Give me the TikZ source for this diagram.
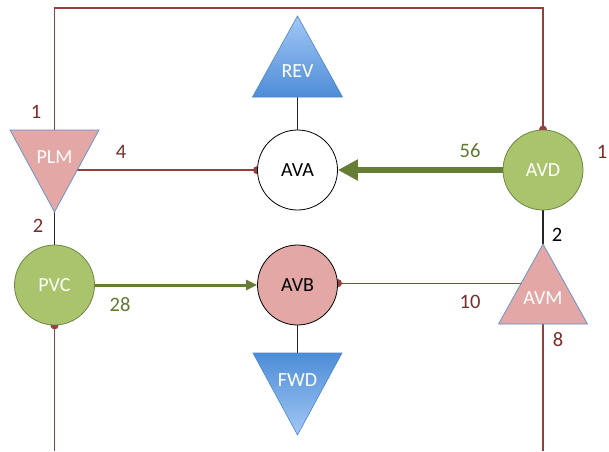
\documentclass[tikz,border=0pt]{standalone}
\usepackage{fontspec}
\setmainfont{Carlito}
\usetikzlibrary{arrows.meta,calc}
\pgfdeclarelayer{background}
\pgfsetlayers{background,main}

\definecolor{avpink}{HTML}{E3A7A6}
\definecolor{avgreen}{HTML}{A9C46C}
\definecolor{greenedge}{HTML}{6E8744}
\definecolor{flowgreen}{HTML}{657D35}
\definecolor{wirered}{HTML}{973F3D}
\definecolor{numred}{HTML}{7A2C2B}
\definecolor{numgreen}{HTML}{5E7A31}
\definecolor{bluelight}{HTML}{A2C7F6}
\definecolor{bluedark}{HTML}{4E8DD6}
\definecolor{bluedge}{HTML}{4A86C6}
\definecolor{tribluedge}{HTML}{5C8FD1}

\begin{document}
\begin{tikzpicture}[x=1pt,y=1pt,
  labelfont/.style={font=\fontsize{20}{24}\selectfont},
  hub/.style={circle, minimum size=80pt, inner sep=0pt, line width=0.8pt, labelfont},
  whitehub/.style={hub, fill=white, draw=black},
  pinkhub/.style={hub, fill=avpink, draw=black},
  greenhub/.style={hub, fill=avgreen, draw=greenedge, text=white},
  pinktri/.style={fill=avpink, draw=tribluedge, line width=0.7pt, line join=miter},
  bluetri/.style={draw=bluedge, line width=0.6pt, line join=miter},
  tag/.style={inner sep=0pt, labelfont},
  num/.style={inner sep=0pt, font=\fontsize{20.5}{24}\selectfont},
  wire/.style={line width=1.2pt, draw=black!85},
  redwire/.style={line width=1.4pt, draw=wirered, line join=miter},
  dotend/.style={-{Circle[length=8pt]}, shorten >=-4pt},
  dotstart/.style={{Circle[length=8pt]}-, shorten <=-4pt},
]
\useasboundingbox (0,0) rectangle (609,451);

% circular hubs
\node[whitehub] (ava) at (297.5,281) {AVA};
\node[greenhub] (avd) at (543,281) {AVD};
\node[pinkhub]  (avb) at (297.5,166) {AVB};
\node[greenhub] (pvc) at (54.5,166) {PVC};

% PLM: pink triangle pointing down
\coordinate (plmTL) at (10,321);
\coordinate (plmTR) at (99,321);
\coordinate (plmB)  at (54.5,239);
\coordinate (plmT)  at ($(plmTL)!0.5!(plmTR)$);
\coordinate (plmE)  at ($(plmTR)!0.49!(plmB)$);
\draw[pinktri] (plmTL) -- (plmTR) -- (plmB) -- cycle;
\node[tag, text=white] (plm) at (54.5,294) {PLM};

% AVM: pink triangle pointing up
\coordinate (avmA) at (543,207);
\coordinate (avmL) at (498.5,127);
\coordinate (avmR) at (587.5,127);
\coordinate (avmBase) at ($(avmL)!0.5!(avmR)$);
\coordinate (avmW) at ($(avmA)!0.49!(avmL)$);
\draw[pinktri] (avmA) -- (avmR) -- (avmL) -- cycle;
\node[tag, text=white] (avm) at (543,153) {AVM};

% REV: blue triangle pointing up
\coordinate (revA) at (297.5,435);
\coordinate (revL) at (252.5,354);
\coordinate (revR) at (342.5,354);
\coordinate (revBase) at ($(revL)!0.5!(revR)$);
\shadedraw[bluetri, top color=bluelight, bottom color=bluedark] (revA) -- (revR) -- (revL) -- cycle;
\node[tag, text=white] (rev) at (297.5,380) {REV};

% FWD: blue triangle pointing down
\coordinate (fwdTL) at (253,98);
\coordinate (fwdTR) at (342,98);
\coordinate (fwdB)  at (297.5,16);
\coordinate (fwdT)  at ($(fwdTL)!0.5!(fwdTR)$);
\shadedraw[bluetri, top color=bluedark, bottom color=bluelight] (fwdTL) -- (fwdTR) -- (fwdB) -- cycle;
\node[tag, text=white] (fwd) at (297.5,71) {FWD};

% frame ends
\coordinate (topL) at (54.5,443);
\coordinate (topR) at (543,443);
\coordinate (pvcFoot) at (54.5,0);
\coordinate (avmFoot) at (543,0);

\begin{pgfonlayer}{background}
  % red links
  \draw[redwire, dotend] (plmT) -- (topL) -- (topR) -- (avd.north);
  \draw[redwire, dotend] (plmE) -- (plmE -| ava.west);
  \draw[redwire, dotend] (avmW) -- (avmW -| avb.east);
  \draw[redwire, dotstart] (pvc.south) -- (pvcFoot);
  \draw[redwire] (avmBase) -- (avmFoot);
  % black links
  \draw[wire] (revBase) -- (ava.north);
  \draw[wire] (plmB) -- (pvc.north);
  \draw[wire] (avd.south) -- (avmA);
  \draw[wire] (avb.south) -- (fwdT);
\end{pgfonlayer}

% green flows
\draw[draw=flowgreen, line width=6.5pt, -{Triangle[length=20pt,width=20pt]}, color=flowgreen] (avd.west) -- (ava.east);
\draw[draw=flowgreen, line width=3pt, -{Triangle[length=11pt,width=10pt]}, color=flowgreen] (pvc.east) -- (avb.west);

% numbers
\node[num, text=numred]   (n1)  at (36,339) {1};
\node[num, text=numred]   (n4)  at (121,299) {4};
\node[num, text=numred]   (n2)  at (38,225) {2};
\node[num, text=numgreen] (n28) at (120,146) {28};
\node[num, text=numgreen] (n56) at (470,300) {56};
\node[num, text=numred]   (n1r) at (602,299) {1};
\node[num, text=black]    (n2r) at (557,216) {2};
\node[num, text=numred]   (n10) at (470,149) {10};
\node[num, text=numred]   (n8)  at (558,111) {8};
\end{tikzpicture}
\end{document}
